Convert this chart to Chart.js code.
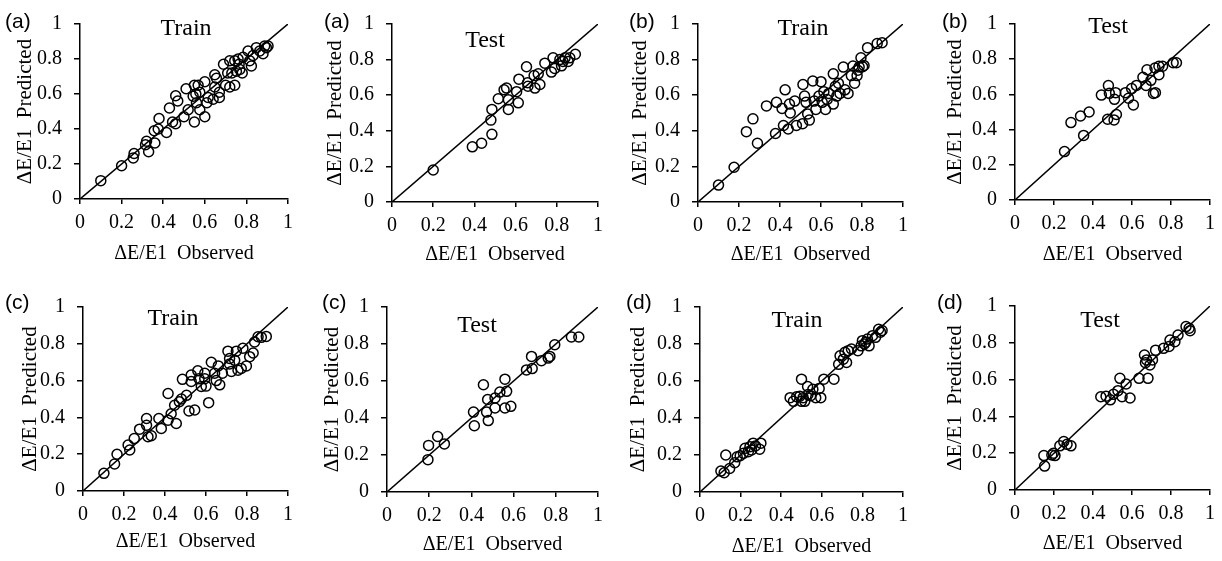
<!DOCTYPE html>
<html>
<head>
<meta charset="utf-8">
<script src="https://cdn.jsdelivr.net/npm/chart.js@4.4.1/dist/chart.umd.min.js"></script>
<style>
  html, body { margin: 0; padding: 0; background: #fff; }
  body { width: 1222px; height: 561px; position: relative; overflow: hidden; }
  canvas { position: absolute; }
</style>
</head>
<body>
<script>
const tickLabels = ['0', '0.2', '0.4', '0.6', '0.8', '1'];
const xTitle = 'ΔE/E1  Observed';
const yTitle = 'ΔE/E1  Predicted';
const diagonal = [[0, 0], [1, 1]];

// [observed, predicted] pairs
const aTrain = [[0.10,0.105],[0.20,0.19],[0.26,0.26],[0.256,0.235],[0.32,0.33],[0.315,0.31],[0.33,0.27],[0.36,0.32],[0.357,0.39],[0.38,0.46],[0.376,0.40],[0.416,0.38],[0.43,0.52],[0.46,0.59],[0.47,0.56],[0.445,0.44],[0.46,0.43],[0.50,0.47],[0.51,0.63],[0.52,0.51],[0.55,0.44],[0.55,0.65],[0.557,0.60],[0.56,0.55],[0.576,0.51],[0.576,0.61],[0.60,0.67],[0.60,0.47],[0.61,0.55],[0.616,0.58],[0.64,0.57],[0.648,0.71],[0.656,0.69],[0.648,0.64],[0.67,0.61],[0.67,0.58],[0.69,0.77],[0.70,0.65],[0.72,0.79],[0.73,0.72],[0.72,0.64],[0.744,0.65],[0.744,0.79],[0.76,0.80],[0.765,0.77],[0.752,0.73],[0.768,0.74],[0.78,0.72],[0.784,0.81],[0.808,0.846],[0.816,0.79],[0.824,0.76],[0.832,0.82],[0.848,0.865],[0.864,0.846],[0.888,0.874],[0.904,0.874],[0.88,0.83],[0.896,0.865],[0.71,0.72],[0.568,0.65],[0.544,0.587]];
const aTest = [[0.20,0.18],[0.39,0.31],[0.435,0.33],[0.485,0.38],[0.48,0.46],[0.485,0.52],[0.516,0.58],[0.544,0.63],[0.556,0.64],[0.565,0.575],[0.565,0.52],[0.613,0.557],[0.605,0.62],[0.616,0.69],[0.653,0.76],[0.658,0.67],[0.66,0.65],[0.69,0.71],[0.694,0.64],[0.718,0.66],[0.71,0.72],[0.742,0.78],[0.774,0.73],[0.782,0.81],[0.79,0.75],[0.815,0.80],[0.83,0.79],[0.84,0.81],[0.855,0.79],[0.863,0.81],[0.89,0.83],[0.823,0.765]];
const bTrain = [[0.10,0.095],[0.176,0.195],[0.236,0.395],[0.268,0.467],[0.29,0.33],[0.334,0.54],[0.383,0.56],[0.378,0.385],[0.425,0.63],[0.41,0.525],[0.417,0.43],[0.44,0.41],[0.45,0.50],[0.446,0.55],[0.472,0.567],[0.48,0.43],[0.51,0.44],[0.512,0.66],[0.52,0.595],[0.527,0.56],[0.535,0.495],[0.543,0.46],[0.56,0.68],[0.567,0.567],[0.575,0.52],[0.59,0.595],[0.60,0.676],[0.606,0.56],[0.614,0.62],[0.622,0.52],[0.63,0.576],[0.638,0.61],[0.66,0.72],[0.66,0.55],[0.67,0.65],[0.677,0.595],[0.685,0.667],[0.693,0.61],[0.709,0.758],[0.717,0.63],[0.732,0.61],[0.748,0.71],[0.756,0.764],[0.764,0.667],[0.78,0.74],[0.786,0.758],[0.795,0.81],[0.803,0.76],[0.81,0.767],[0.776,0.71],[0.827,0.867],[0.874,0.89],[0.898,0.895]];
const bTest = [[0.254,0.275],[0.287,0.44],[0.336,0.477],[0.38,0.50],[0.352,0.367],[0.443,0.596],[0.479,0.65],[0.484,0.606],[0.475,0.459],[0.508,0.455],[0.52,0.486],[0.51,0.572],[0.516,0.61],[0.566,0.61],[0.582,0.578],[0.598,0.633],[0.623,0.651],[0.607,0.54],[0.656,0.697],[0.672,0.651],[0.677,0.74],[0.697,0.68],[0.71,0.605],[0.72,0.61],[0.718,0.75],[0.738,0.712],[0.738,0.76],[0.757,0.76],[0.811,0.78],[0.828,0.78]];
const cTrain = [[0.102,0.096],[0.154,0.147],[0.166,0.20],[0.22,0.25],[0.228,0.223],[0.25,0.285],[0.276,0.336],[0.31,0.357],[0.317,0.295],[0.333,0.30],[0.31,0.394],[0.37,0.394],[0.382,0.34],[0.415,0.53],[0.415,0.385],[0.43,0.42],[0.455,0.367],[0.447,0.466],[0.47,0.485],[0.48,0.50],[0.485,0.607],[0.505,0.52],[0.517,0.435],[0.545,0.44],[0.528,0.63],[0.528,0.595],[0.56,0.653],[0.566,0.61],[0.577,0.568],[0.594,0.64],[0.594,0.61],[0.60,0.57],[0.613,0.48],[0.626,0.70],[0.642,0.64],[0.65,0.60],[0.66,0.68],[0.667,0.577],[0.68,0.64],[0.707,0.76],[0.724,0.65],[0.74,0.71],[0.748,0.76],[0.756,0.656],[0.772,0.666],[0.78,0.776],[0.797,0.68],[0.813,0.73],[0.83,0.75],[0.837,0.81],[0.87,0.835],[0.894,0.84],[0.854,0.838],[0.715,0.72],[0.715,0.69]];
const cTest = [[0.194,0.175],[0.197,0.252],[0.24,0.30],[0.272,0.26],[0.41,0.432],[0.414,0.358],[0.457,0.58],[0.472,0.432],[0.477,0.50],[0.48,0.386],[0.512,0.454],[0.512,0.508],[0.535,0.54],[0.559,0.454],[0.559,0.61],[0.567,0.544],[0.587,0.463],[0.661,0.66],[0.685,0.733],[0.688,0.667],[0.732,0.71],[0.764,0.724],[0.772,0.733],[0.795,0.796],[0.874,0.838],[0.909,0.838]];
const dTrain = [[0.103,0.113],[0.119,0.104],[0.127,0.20],[0.146,0.127],[0.171,0.158],[0.183,0.19],[0.198,0.196],[0.214,0.209],[0.222,0.236],[0.238,0.218],[0.246,0.245],[0.262,0.264],[0.273,0.249],[0.294,0.231],[0.30,0.264],[0.254,0.227],[0.444,0.51],[0.46,0.49],[0.476,0.515],[0.492,0.518],[0.508,0.51],[0.516,0.49],[0.532,0.527],[0.50,0.49],[0.50,0.61],[0.53,0.57],[0.556,0.555],[0.587,0.56],[0.57,0.51],[0.595,0.51],[0.61,0.61],[0.66,0.61],[0.545,0.52],[0.683,0.69],[0.69,0.736],[0.706,0.718],[0.714,0.755],[0.73,0.764],[0.746,0.773],[0.722,0.70],[0.778,0.764],[0.794,0.79],[0.80,0.818],[0.817,0.81],[0.825,0.827],[0.833,0.79],[0.85,0.845],[0.865,0.836],[0.88,0.88],[0.897,0.873],[0.889,0.864],[0.81,0.80]];
const dTest = [[0.148,0.187],[0.152,0.13],[0.189,0.19],[0.197,0.20],[0.205,0.187],[0.23,0.24],[0.25,0.263],[0.267,0.248],[0.287,0.24],[0.44,0.507],[0.467,0.51],[0.489,0.49],[0.505,0.52],[0.528,0.54],[0.538,0.607],[0.549,0.507],[0.57,0.576],[0.59,0.50],[0.636,0.607],[0.682,0.607],[0.664,0.734],[0.675,0.707],[0.669,0.692],[0.721,0.76],[0.705,0.707],[0.692,0.68],[0.762,0.77],[0.795,0.815],[0.79,0.78],[0.82,0.806],[0.836,0.842],[0.877,0.888],[0.893,0.879],[0.898,0.866]];

// page layout: cell box, plot box [left, right, top, bottom], label spots
const panels = [
  { cell: [0, 0, 305, 280],    tag: '(a)', name: 'Train', pts: aTrain, plot: [80, 288, 19, 199],    yOff: 55, xOff: 55, tagAt: [5, 28],    nameAt: [186, 35] },
  { cell: [305, 0, 610, 280],  tag: '(a)', name: 'Test',  pts: aTest,  plot: [392, 598, 19, 202],   yOff: 57, xOff: 53, tagAt: [324, 28],  nameAt: [485, 47] },
  { cell: [610, 0, 915, 280],  tag: '(b)', name: 'Train', pts: bTrain, plot: [698, 910, 19, 202],   yOff: 58, xOff: 53, tagAt: [629, 28],  nameAt: [803, 35] },
  { cell: [915, 0, 1222, 280], tag: '(b)', name: 'Test',  pts: bTest,  plot: [1015, 1218, 18, 200], yOff: 60, xOff: 55, tagAt: [942, 28],  nameAt: [1108, 33] },
  { cell: [0, 280, 305, 561],    tag: '(c)', name: 'Train', pts: cTrain, plot: [83, 288, 307, 491],   yOff: 53, xOff: 51, tagAt: [5, 309],   nameAt: [173, 325] },
  { cell: [305, 280, 610, 561],  tag: '(c)', name: 'Test',  pts: cTest,  plot: [387, 598, 307, 492],  yOff: 55, xOff: 53, tagAt: [322, 309], nameAt: [477, 332] },
  { cell: [610, 280, 915, 561],  tag: '(d)', name: 'Train', pts: dTrain, plot: [700, 910, 307, 492],  yOff: 62, xOff: 55, tagAt: [626, 309], nameAt: [797, 327] },
  { cell: [915, 280, 1222, 561], tag: '(d)', name: 'Test',  pts: dTest,  plot: [1015, 1218, 306, 490], yOff: 60, xOff: 54, tagAt: [937, 309], nameAt: [1100, 327] }
];

const serif = 'Liberation Serif';
const xTitleSize = 20, yTitleSize = 21, titleLH = 1.2;

const labelsPlugin = {
  id: 'panelLabels',
  afterDraw(chart, args, opts) {
    const c = chart.ctx;
    c.save();
    c.fillStyle = '#000';
    c.textBaseline = 'alphabetic';
    c.font = '21px "Liberation Sans"';
    c.textAlign = 'left';
    c.fillText(opts.tag, opts.tagX, opts.tagY);
    c.font = '24px "' + serif + '"';
    c.textAlign = 'center';
    c.fillText(opts.name, opts.nameX, opts.nameY);
    c.restore();
  }
};

function axis(pos, text, titleSize, tickLen, tickPad) {
  return {
    type: 'linear',
    position: pos,
    min: 0,
    max: 1,
    border: { display: true, color: '#000', width: 1.5 },
    grid: { display: true, drawOnChartArea: false, drawTicks: true, tickLength: tickLen, color: '#000', lineWidth: 1.5 },
    ticks: {
      stepSize: 0.2,
      color: '#000',
      padding: tickPad,
      font: { family: serif, size: 20 },
      callback: (v, i) => tickLabels[i]
    },
    title: { display: true, text: text, color: '#000', padding: 0, font: { family: serif, size: titleSize, lineHeight: titleLH } }
  };
}

panels.forEach(p => {
  const [cl, ct, cr, cb] = p.cell;
  const [pl, pr, pt, pb] = p.plot;
  const yW = p.yOff + yTitleSize * titleLH / 2;
  const xH = p.xOff + xTitleSize * titleLH / 2;

  const cv = document.createElement('canvas');
  cv.width = cr - cl;
  cv.height = cb - ct;
  cv.style.left = cl + 'px';
  cv.style.top = ct + 'px';
  document.body.appendChild(cv);

  const xAxis = axis('bottom', xTitle, xTitleSize, 5, 7);
  xAxis.afterFit = s => { s.height = xH; };
  const yAxis = axis('left', yTitle, yTitleSize, 6, 12);
  yAxis.afterFit = s => { s.width = yW; };

  new Chart(cv, {
    type: 'scatter',
    data: {
      datasets: [
        {
          data: diagonal.map(d => ({ x: d[0], y: d[1] })),
          showLine: true,
          borderColor: '#000',
          borderWidth: 1.5,
          pointRadius: 0
        },
        {
          data: p.pts.map(d => ({ x: d[0], y: d[1] })),
          pointStyle: 'circle',
          pointRadius: 5,
          pointBorderWidth: 1.5,
          pointBorderColor: '#000',
          pointBackgroundColor: 'rgba(0,0,0,0)'
        }
      ]
    },
    options: {
      responsive: false,
      maintainAspectRatio: false,
      animation: false,
      layout: {
        padding: {
          left: pl - cl - yW,
          right: cr - pr,
          top: pt - ct,
          bottom: cb - pb - xH
        }
      },
      scales: { x: xAxis, y: yAxis },
      plugins: {
        legend: { display: false },
        tooltip: { enabled: false },
        panelLabels: {
          tag: p.tag,
          name: p.name,
          tagX: p.tagAt[0] - cl,
          tagY: p.tagAt[1] - ct,
          nameX: p.nameAt[0] - cl,
          nameY: p.nameAt[1] - ct
        }
      }
    },
    plugins: [labelsPlugin]
  });
});
</script>
</body>
</html>
